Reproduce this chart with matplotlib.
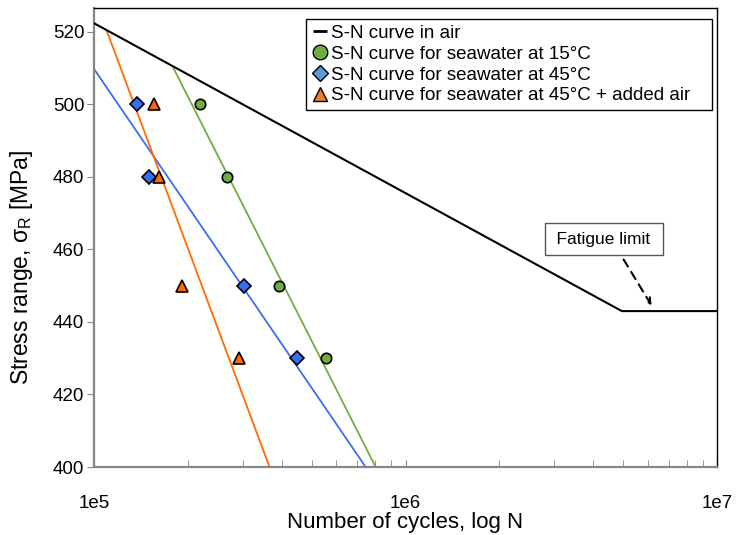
import matplotlib.pyplot as plt
from matplotlib.lines import Line2D
from matplotlib.ticker import FixedLocator, NullFormatter

plt.rcParams['font.family'] = ['Liberation Sans', 'DejaVu Sans']

# S-N curve in air (bilinear, fatigue limit at knee)
air_N = [1e5, 4.95e6, 1e7]
air_S = [522.4, 443.0, 443.0]

# test points
stress = [500, 480, 450, 430]
sw15_N = [2.19e5, 2.68e5, 3.92e5, 5.54e5]
sw45_N = [1.37e5, 1.50e5, 3.03e5, 4.47e5]
sw45air_N = [1.56e5, 1.62e5, 1.91e5, 2.92e5]

# fitted lines
fit15_N = [1.79e5, 8.02e5]
fit15_S = [510.4, 400]
fit45_N = [1.0e5, 7.45e5]
fit45_S = [509.8, 400]
fit45air_N = [1.098e5, 3.66e5]
fit45air_S = [520.4, 400]

labels = ['S-N curve in air',
          'S-N curve for seawater at 15°C',
          'S-N curve for seawater at 45°C',
          'S-N curve for seawater at 45°C + added air   ']

green = '#70AD47'
blue = '#3A6EF2'
orange = '#FF6A00'
gray = '#868686'

fig = plt.figure(figsize=(7.44, 5.35), dpi=100)
ax = fig.add_axes([94/744, 1-467/535, (717-94)/744, (467-8)/535])

ax.plot(air_N, air_S, color='black', lw=1.5, zorder=3)
ax.plot(fit15_N, fit15_S, color=green, lw=1.3, zorder=2)
ax.plot(fit45_N, fit45_S, color=blue, lw=1.3, zorder=2)
ax.plot(fit45air_N, fit45air_S, color=orange, lw=1.3, zorder=2)

ax.plot(sw15_N, stress, 'o', ms=7.5, mfc=green, mec='black', mew=1.2, zorder=4)
ax.plot(sw45_N, stress, 'D', ms=7, mfc=blue, mec='black', mew=1.2, zorder=4)
ax.plot(sw45air_N, stress, '^', ms=9, mfc=orange, mec='black', mew=1.2, zorder=4)

ax.set_xscale('log')
ax.set_xlim(1e5, 1e7)
ax.set_ylim(400, 526.6)
ax.set_yticks([400, 420, 440, 460, 480, 500, 520])
ax.set_xticks([1e5, 1e6, 1e7])
ax.set_xticklabels(['1e5', '1e6', '1e7'])
minors = [m * 10**e for e in (5, 6) for m in range(2, 10)]
ax.xaxis.set_minor_locator(FixedLocator(minors))
ax.xaxis.set_minor_formatter(NullFormatter())

ax.tick_params(axis='x', which='both', direction='in', length=5, color=gray,
               labelsize=13.5, pad=20)
ax.tick_params(axis='y', direction='out', length=5, color=gray, labelsize=13.5, pad=2)
for s in ['left', 'bottom']:
    ax.spines[s].set_color(gray)
    ax.spines[s].set_linewidth(1.6)
for s in ['top', 'right']:
    ax.spines[s].set_color('black')
    ax.spines[s].set_linewidth(1.0)

ax.set_xlabel('Number of cycles, log N', fontsize=16, labelpad=0)
ax.set_ylabel('Stress range, σ$_\\mathregular{R}$ [MPa]', fontsize=16.5, labelpad=13, y=0.435)

handles = [
    Line2D([], [], ls='', marker='_', ms=10, mec='black', mew=2),
    Line2D([], [], ls='', marker='o', ms=10.5, mfc='#70AD47', mec='black', mew=1),
    Line2D([], [], ls='', marker='D', ms=8, mfc='#5B9BD5', mec='black', mew=1),
    Line2D([], [], ls='', marker='^', ms=10.5, mfc='#ED7D31', mec='black', mew=1),
]
leg = ax.legend(handles, labels, loc='upper right', bbox_to_anchor=((712-94)/623, (467-19)/459),
                borderaxespad=0, fontsize=13.5, handlelength=0.9, handletextpad=0.15,
                labelspacing=0.2, borderpad=0.3, fancybox=False, framealpha=1,
                edgecolor='black')
leg.get_frame().set_linewidth(1.0)
leg.set_zorder(10)

ax.text(4.33e6, 462.8, '\u2009Fatigue limit\u2009', fontsize=12.5, ha='center', va='center',
        bbox=dict(boxstyle='square,pad=0.5', fc='white', ec='#555555', lw=1.0))
ax.annotate('', xy=(6.23e6, 443.9), xytext=(4.96e6, 457.9),
            arrowprops=dict(arrowstyle='->', ls=(0, (4, 3)), lw=1.5, color='black'))

fig.savefig('out.png', dpi=100)
